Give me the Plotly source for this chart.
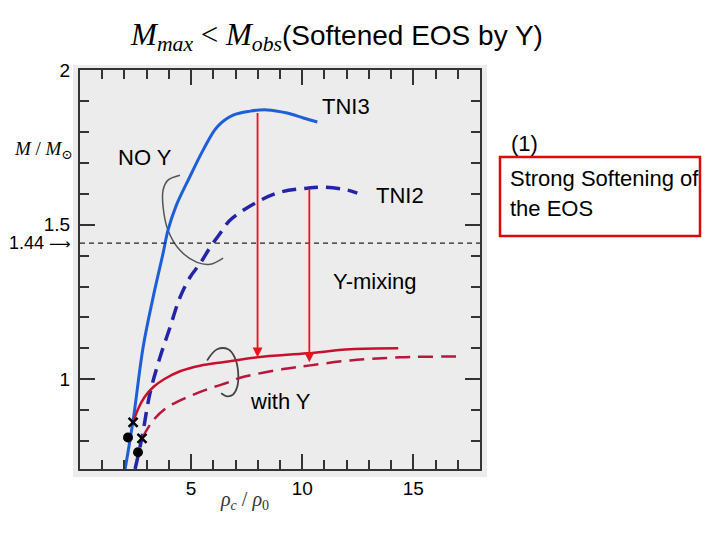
import plotly.graph_objects as go

# ---------------------------------------------------------------
# values read off the scanned M(rho_c) figure
# ---------------------------------------------------------------
# NO Y, TNI3 (solid blue)
tni3_rho = [2.03, 2.39, 2.84, 3.29, 3.74, 3.96, 4.32, 4.91, 5.54, 6.17, 6.89, 7.66, 8.42, 9.32, 10.05, 10.68]
tni3_m = [0.71, 0.867, 1.104, 1.265, 1.408, 1.482, 1.560, 1.650, 1.741, 1.816, 1.854, 1.867, 1.871, 1.861, 1.845, 1.832]

# NO Y, TNI2 (dashed blue)
tni2_rho = [2.48, 2.79, 3.15, 3.60, 4.05, 4.50, 4.95, 5.41, 5.86, 6.31, 6.76, 7.97, 9.01, 10.23, 10.95, 12.03, 12.48]
tni2_m = [0.71, 0.812, 0.955, 1.071, 1.168, 1.265, 1.330, 1.375, 1.427, 1.472, 1.515, 1.573, 1.605, 1.618, 1.621, 1.612, 1.602]

# with Y, TNI3 (solid red)
y3_rho = [2.39, 2.62, 2.90, 3.30, 3.80, 4.50, 5.40, 6.50, 7.97, 10.23, 12.16, 14.32]
y3_m = [0.861, 0.905, 0.942, 0.975, 1.001, 1.026, 1.044, 1.056, 1.071, 1.084, 1.097, 1.100]

# with Y, TNI2 (dashed red)
y2_rho = [2.79, 3.29, 3.92, 4.82, 5.86, 6.67, 7.21, 9.14, 10.36, 12.16, 14.41, 17.25]
y2_m = [0.809, 0.867, 0.909, 0.942, 0.971, 0.990, 1.005, 1.033, 1.045, 1.061, 1.071, 1.074]

# hyperon onset (x) and surface points (dots)
onset_rho = [2.39, 2.79]
onset_m = [0.861, 0.809]
dot_rho = [2.16, 2.61]
dot_m = [0.812, 0.764]

# drops of the maximum mass (Y-mixing arrows)
arrow_rho = [7.99, 10.32]
arrow_top = [1.866, 1.619]
arrow_bottom = [1.071, 1.055]

# hand-drawn brackets
bracket_noy_rho = [4.50, 3.96, 3.74, 3.74, 3.96, 4.50, 5.27, 5.86, 6.44]
bracket_noy_m = [1.660, 1.644, 1.612, 1.557, 1.482, 1.417, 1.378, 1.372, 1.392]
bracket_y_rho = [5.72, 6.17, 6.67, 6.98, 7.12, 7.07, 6.89, 6.62, 6.35]
bracket_y_m = [1.061, 1.097, 1.097, 1.068, 1.019, 0.974, 0.951, 0.945, 0.955]

M_CANONICAL = 1.44

# curve labels
label_text = ["TNI3", "TNI2", "NO Y", "Y-mixing", "with Y"]
label_rho = [11.98, 14.41, 2.93, 13.29, 9.01]
label_m = [1.883, 1.595, 1.718, 1.317, 0.929]

SANS = "Arial, Liberation Sans, sans-serif"
SERIF = "Liberation Serif, DejaVu Serif, serif"

fig = go.Figure()

fig.add_trace(go.Scatter(x=bracket_noy_rho, y=bracket_noy_m, mode="lines",
                         line=dict(color="#555555", width=1.5, shape="spline")))
fig.add_trace(go.Scatter(x=bracket_y_rho, y=bracket_y_m, mode="lines",
                         line=dict(color="#444444", width=1.8, shape="spline")))

fig.add_trace(go.Scatter(x=tni3_rho, y=tni3_m, mode="lines",
                         line=dict(color="#1c5fd6", width=3, shape="spline")))
fig.add_trace(go.Scatter(x=tni2_rho, y=tni2_m, mode="lines",
                         line=dict(color="#2424a8", width=3.5, shape="spline", dash="14px,8px")))
fig.add_trace(go.Scatter(x=y3_rho, y=y3_m, mode="lines",
                         line=dict(color="#c8102e", width=2.5, shape="spline")))
fig.add_trace(go.Scatter(x=y2_rho, y=y2_m, mode="lines",
                         line=dict(color="#b8163c", width=2.5, shape="spline", dash="15px,8px")))

fig.add_trace(go.Scatter(x=onset_rho, y=onset_m, mode="markers",
                         marker=dict(symbol="x-thin", size=9, line=dict(color="black", width=2.5))))
fig.add_trace(go.Scatter(x=dot_rho, y=dot_m, mode="markers",
                         marker=dict(symbol="circle", size=10, color="black")))

for x0, top, bottom in zip(arrow_rho, arrow_top, arrow_bottom):
    fig.add_annotation(x=x0, y=bottom, ax=x0, ay=top, xref="x", yref="y",
                       axref="x", ayref="y", text="", showarrow=True,
                       arrowhead=2, arrowsize=1.1, arrowwidth=1.8, arrowcolor="#e8141c")

for t, x0, y0 in zip(label_text, label_rho, label_m):
    fig.add_annotation(x=x0, y=y0, xref="x", yref="y", text=t, showarrow=False,
                       xanchor="center", yanchor="middle",
                       font=dict(family=SANS, size=22, color="black"))

# 1.44 line
fig.add_shape(type="line", xref="paper", yref="y", x0=0, x1=1,
              y0=M_CANONICAL, y1=M_CANONICAL,
              line=dict(color="#222222", width=1.3, dash="5px,4px"))
fig.add_annotation(x=-0.018, y=M_CANONICAL, xref="paper", yref="y",
                   text="1.44 <span style='font-family:DejaVu Sans;font-size:15px'>\u27f6</span>",
                   showarrow=False, xanchor="right", yanchor="middle",
                   font=dict(family=SANS, size=18, color="black"))

# scanned-page background
fig.add_shape(type="rect", xref="paper", yref="paper", x0=-0.0175, x1=1.0175,
              y0=-0.02, y1=1.0125, fillcolor="#ececec", line=dict(width=0), layer="below")

# axis titles
fig.add_annotation(x=-0.0125, y=(469 - 150) / 399, xref="paper", yref="paper",
                   text="<i>M</i> / <i>M</i><sub>\u2299</sub>", showarrow=False,
                   xanchor="right", yanchor="middle",
                   font=dict(family=SERIF, size=19, color="black"))
fig.add_annotation(x=0.41, y=-0.078, xref="paper", yref="paper",
                   text="<i>\u03c1<sub>c</sub></i> / <i>\u03c1</i><sub>0</sub>", showarrow=False,
                   xanchor="center", yanchor="middle",
                   font=dict(family=SERIF, size=20, color="#333333"))

# side note
fig.add_annotation(x=1.072, y=(469 - 143) / 399, xref="paper", yref="paper", text="(1)",
                   showarrow=False, xanchor="left", yanchor="middle",
                   font=dict(family=SANS, size=22, color="black"))
fig.add_shape(type="rect", xref="paper", yref="paper", x0=1.05, x1=1.55,
              y0=(469 - 236) / 399, y1=(469 - 157) / 399,
              line=dict(color="#dd0a0a", width=2.5))
fig.add_annotation(x=1.07, y=(469 - 178) / 399, xref="paper", yref="paper",
                   text="Strong Softening of", showarrow=False, xanchor="left", yanchor="middle",
                   font=dict(family=SANS, size=22, color="black"))
fig.add_annotation(x=1.07, y=(469 - 208) / 399, xref="paper", yref="paper",
                   text="the EOS", showarrow=False, xanchor="left", yanchor="middle",
                   font=dict(family=SANS, size=22, color="black"))

axis_common = dict(showline=True, linecolor="#333333", linewidth=2, mirror="ticks",
                   ticks="inside", tickcolor="#333333", tickwidth=2, ticklen=15,
                   showgrid=False, zeroline=False,
                   tickfont=dict(family=SANS, size=19, color="black"))

fig.update_xaxes(range=[0, 18], tickmode="array", tickvals=[5, 10, 15],
                 ticklabelstandoff=1,
                 minor=dict(tickmode="linear", tick0=0, dtick=1, ticks="inside",
                            ticklen=9, tickcolor="#333333", tickwidth=2, showgrid=False),
                 **axis_common)
fig.update_yaxes(range=[0.71, 2.0], tickmode="linear", tick0=0, dtick=0.5,
                 ticklabelstandoff=4,
                 minor=dict(tickmode="linear", tick0=0, dtick=0.1, ticks="inside",
                            ticklen=9, tickcolor="#333333", tickwidth=2, showgrid=False),
                 **axis_common)

# the page body adds an 8px offset, so the figure is 8px smaller than the window
fig.update_layout(
    width=712, height=532,
    margin=dict(l=72, r=240, t=62, b=71),
    paper_bgcolor="white", plot_bgcolor="#ececec",
    showlegend=False,
    title=dict(
        text="<span style='font-family:Liberation Serif;font-size:31px'><i>M<sub>max</sub></i> &lt; "
             "<i>M<sub>obs</sub></i></span>(Softened EOS by Y)",
        x=(337 - 8) / 712, y=1 - (35 - 8) / 532, xref="container", yref="container",
        xanchor="center", yanchor="middle",
        font=dict(family=SANS, size=28, color="black")),
)

fig.write_html("out.html")
